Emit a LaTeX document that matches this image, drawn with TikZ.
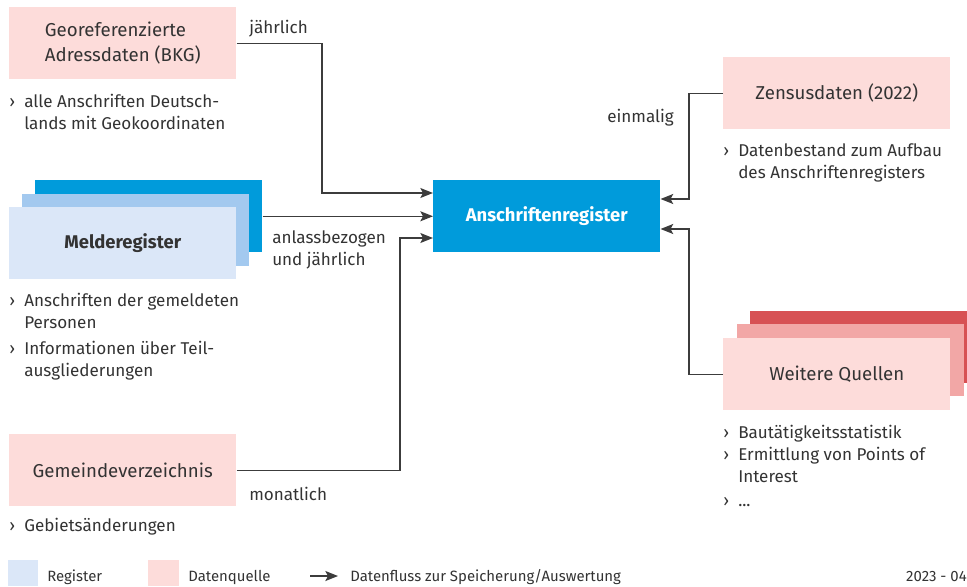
\documentclass[tikz,border=0pt]{standalone}
\usepackage{fontspec}
\setmainfont{Fira Sans}
\usetikzlibrary{arrows.meta}

\definecolor{regblue}{HTML}{009BDB}
\definecolor{midblue}{HTML}{A3C9EF}
\definecolor{paleblue}{HTML}{DBE7F8}
\definecolor{palepink}{HTML}{FDDCDA}
\definecolor{midpink}{HTML}{F2A7A6}
\definecolor{darkred}{HTML}{D75154}
\definecolor{txtgray}{HTML}{333333}
\definecolor{linegray}{HTML}{3C3C3C}

% list items: bullet sign and hanging indent
\newcommand{\itm}{\makebox[11.25pt][l]{›}}
\newcommand{\cnt}{\hspace*{11.25pt}}

\begin{document}
\begin{tikzpicture}[x=0.75pt,y=-0.75pt,
    every node/.style={text=txtgray, font=\fontsize{12.8}{16.3}\selectfont},
    box/.style={anchor=north west, minimum width=170.25pt, minimum height=54pt, inner sep=0pt},
    quelle/.style={box, fill=palepink},
    register/.style={box, fill=paleblue},
    boxfont/.style={font=\fontsize{14}{19}\selectfont},
    info/.style={anchor=base west, inner sep=0pt, align=left},
    lbl/.style={anchor=base west, inner sep=0pt, align=left},
    key/.style={anchor=base west, inner sep=0pt, font=\fontsize{11.2}{13}\selectfont},
    flow/.style={draw=linegray, line width=1.1pt, -{Stealth[length=9.5pt,width=7.5pt,inset=2pt]}}
    ]
    \useasboundingbox (0,0) rectangle (967,586);

    % central register
    \node[box, fill=regblue, text=white, font=\fontsize{13.8}{16}\selectfont\bfseries] (reg) at (433,180) {Anschriftenregister};

    % sources on the left (multi-line texts sit on their last baseline)
    \node[quelle] (geo) at (9,7) {};
    \node[align=left, boxfont] (geotxt) at (geo.center) {Georeferenzierte\\Adressdaten (BKG)};
    \node[info] (geoinfo) at (9,129) {\itm alle Anschriften Deutsch-\\\cnt lands mit Geokoordinaten};

    \node[box, fill=regblue] (mel3) at (35,180) {};
    \node[box, fill=midblue] (mel2) at (22,194) {};
    \node[register, font=\fontsize{13.8}{16}\selectfont\bfseries] (mel) at (9,207) {Melderegister};
    \node[info] (melinfo1) at (9,328) {\itm Anschriften der gemeldeten\\\cnt Personen};
    \node[info] (melinfo2) at (9,376) {\itm Informationen über Teil-\\\cnt ausgliederungen};

    \node[quelle, boxfont] (gem) at (9,434) {Gemeindeverzeichnis};
    \node[info] (geminfo) at (9,531) {\itm Gebietsänderungen};

    % sources on the right
    \node[quelle, boxfont] (zen) at (723,57) {Zensusdaten (2022)};
    \node[info] (zeninfo) at (723,178) {\itm Datenbestand zum Aufbau\\\cnt des Anschriftenregisters};

    \node[box, fill=darkred, minimum width=162.75pt] (wq3) at (750,311) {};
    \node[box, fill=midpink] (wq2) at (737,324) {};
    \node[quelle, boxfont] (wq) at (723,338) {Weitere Quellen};
    \node[info] (wqinfo1) at (723,438) {\itm Bautätigkeitsstatistik};
    \node[info] (wqinfo2) at (723,482) {\itm Ermittlung von Points of\\\cnt Interest};
    \node[info] (wqinfo3) at (723,506) {\itm ...};

    % data flows
    \draw[flow] (geo.east) -| (322,193) -- (reg.west |- 0,193);
    \draw[flow] (mel3.east) -- (reg.west |- mel3.east);
    \draw[flow] (gem.east) -| (400,238) -- (reg.west |- 0,238);
    \draw[flow] (zen.west) -| (689,199) -- (reg.east |- 0,199);
    \draw[flow] (wq.west) -| (689,229) -- (reg.east |- 0,229);

    \node[lbl] (l1) at (249,33) {jährlich};
    \node[lbl] (l2) at (272,265) {anlassbezogen\\und jährlich};
    \node[lbl] (l3) at (249,500) {monatlich};
    \node[lbl] (l4) at (607,122) {einmalig};

    % legend
    \fill[paleblue] (8,560) rectangle (38,586);
    \node[key] (k1) at (47,581) {Register};
    \fill[palepink] (148,560) rectangle (179,586);
    \node[key] (k2) at (188,581) {Datenquelle};
    \coordinate (k3a) at (310,576);
    \node[key] (k3) at (350,581) {Datenfluss zur Speicherung/Auswertung};
    \draw[flow] (k3a) -- (338,576);
    \node[key, anchor=base east] (stand) at (967,581) {2023 - 04};
\end{tikzpicture}
\end{document}
